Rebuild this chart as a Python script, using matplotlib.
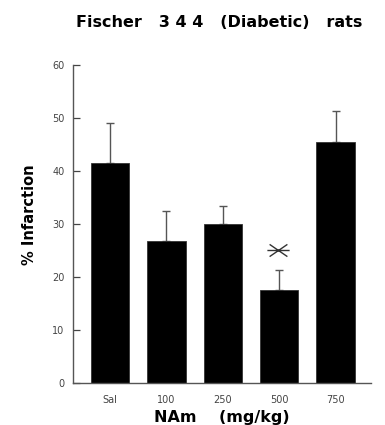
import matplotlib
matplotlib.use("Agg")
import matplotlib.pyplot as plt
from matplotlib.path import Path
import numpy as np

# Infarct size by nicotinamide dose
categories = ["Sal", "100", "250", "500", "750"]
infarction = [41.5, 26.8, 30.0, 17.5, 45.5]
sem = [7.6, 5.6, 3.3, 3.8, 5.8]
significant = [False, False, False, True, False]
yticks = [0, 10, 20, 30, 40, 50, 60]

plt.rcParams["font.family"] = ["DejaVu Sans"]

fig = plt.figure(figsize=(3.85, 4.25), dpi=100)
ax = fig.add_axes([0.189, 0.099, 0.775, 0.748])

x = np.arange(len(categories))
ax.bar(x, infarction, width=0.68, color="black", edgecolor="#333333", linewidth=0.6, zorder=2)
ax.errorbar(x, infarction, yerr=[np.zeros(len(sem)), sem], fmt="none",
            ecolor="#555555", elinewidth=1.0, capsize=3, capthick=1.0, zorder=1)

# flattened asterisk: one horizontal stroke and two shallow diagonals
star = Path([(-1, 0), (1, 0), (-0.8, -0.55), (0.8, 0.55), (-0.8, 0.55), (0.8, -0.55)],
            [Path.MOVETO, Path.LINETO, Path.MOVETO, Path.LINETO, Path.MOVETO, Path.LINETO])
for xi, v, s, sig in zip(x, infarction, sem, significant):
    if sig:
        ax.plot(xi - 0.03, v + s + 3.7, marker=star, markersize=16, color="#333333",
                markeredgewidth=1.0, linestyle="none")

ax.set_xlim(-0.66, 4.63)
ax.set_ylim(0, 60)
ax.set_yticks(yticks)
ax.set_yticklabels([str(t) for t in yticks])
ax.set_xticks(x)
ax.set_xticklabels(categories)
ax.tick_params(axis="y", direction="in", length=5, width=0.9, color="#444444",
               labelsize=7, labelcolor="#444444", pad=6)
ax.tick_params(axis="x", length=0, labelsize=7, labelcolor="#444444", pad=9)

for side in ["top", "right"]:
    ax.spines[side].set_visible(False)
for side in ["left", "bottom"]:
    ax.spines[side].set_color("#555555")
    ax.spines[side].set_linewidth(1.0)

ax.set_ylabel("% Infarction", fontsize=10.5, fontweight="bold", labelpad=11)
ax.yaxis.label.set_y(0.53)
ax.set_xlabel("NAm    (mg/kg)", fontsize=11.5, fontweight="bold", labelpad=3)

fig.text(0.569, 0.946, "Fischer   3 4 4   (Diabetic)   rats", ha="center", va="center",
         fontsize=11.5, fontweight="bold")

fig.savefig("out.png", dpi=100)
